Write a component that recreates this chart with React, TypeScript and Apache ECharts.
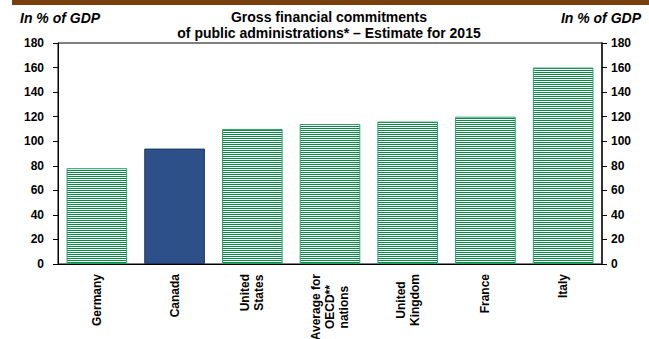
import React, { useEffect, useRef } from "react";
import * as echarts from "echarts";

const categories = ["Germany", "Canada", "United\nStates", "Average for\nOECD**\nnations", "United\nKingdom", "France", "Italy"];
const values = [78, 94, 110, 114, 116, 120, 160];
const highlightIndex = 1;
const titleLines = ["Gross financial commitments", "of public administrations* – Estimate for 2015"];
const unitLabel = "In % of GDP";

export default function App() {
  const ref = useRef<HTMLDivElement>(null);
  useEffect(() => {
    if (!ref.current) return;
    const chart = echarts.init(ref.current, undefined, { renderer: "svg" });
    const c = document.createElement("canvas");
    c.width = 4;
    c.height = 2;
    const ctx = c.getContext("2d")!;
    ctx.fillStyle = "#ffffff";
    ctx.fillRect(0, 0, 4, 2);
    ctx.fillStyle = "#0b8a46";
    ctx.fillRect(0, 0, 4, 1);
    const url = c.toDataURL();
    const green = { image: url, repeat: "repeat" } as any;
    const font = "'Liberation Sans', Arial, sans-serif";
    const labelFont = `bold 12px ${font}`;
    const baseGraphic: any[] = [
      { type: "rect", shape: { x: 12, y: 0, width: 637, height: 5 }, style: { fill: "#7a3e0c" } },
      { type: "text", x: 20, y: 11, style: { text: unitLabel, font: `italic bold 14px ${font}`, fill: "#000" } },
      { type: "text", x: 641, y: 11, style: { text: unitLabel, font: `italic bold 14px ${font}`, fill: "#000", align: "right" } },
      { type: "text", x: 329, y: 9, style: { text: titleLines.join("\n"), font: `bold 14px ${font}`, fill: "#000", align: "center", lineHeight: 16 } },
    ];
    chart.setOption({
      animation: false,
      backgroundColor: "#ffffff",
      grid: { left: 58, right: 47, top: 43, bottom: 75, show: true, borderColor: "#000", borderWidth: 1 },
      graphic: baseGraphic,
      xAxis: {
        type: "category",
        data: categories,
        axisLine: { lineStyle: { color: "#000", width: 1 } },
        axisTick: { show: false },
        axisLabel: { show: false },
      },
      yAxis: [
        {
          type: "value",
          min: 0,
          max: 180,
          interval: 20,
          position: "left",
          splitLine: { show: false },
          axisLine: { show: true, lineStyle: { color: "#000", width: 1 } },
          axisTick: { show: true, length: 5, lineStyle: { color: "#000" } },
          axisLabel: { color: "#000", fontFamily: font, fontWeight: "bold", fontSize: 12, margin: 14 },
        },
        {
          type: "value",
          min: 0,
          max: 180,
          interval: 20,
          position: "right",
          splitLine: { show: false },
          axisLine: { show: true, lineStyle: { color: "#333", width: 2 } },
          axisTick: { show: true, length: 5, lineStyle: { color: "#000" } },
          axisLabel: { color: "#000", fontFamily: font, fontWeight: "bold", fontSize: 12, margin: 9 },
        },
      ],
      series: [
        {
          type: "bar",
          barCategoryGap: "22%",
          data: values.map((v, i) => ({
            value: v,
            itemStyle:
              i === highlightIndex
                ? { color: "#2e5088", borderColor: "#1c3461", borderWidth: 1 }
                : { color: green, borderColor: "#2f9e6e", borderWidth: 1 },
          })),
        },
      ],
    });
    // category labels: rotated, lines centred, block anchored just below the axis
    ctx.font = labelFont;
    const axisY = chart.convertToPixel({ yAxisIndex: 0 }, 0) as number;
    const labels = categories.map((cat, i) => {
      const cx = chart.convertToPixel({ xAxisIndex: 0 }, i) as number;
      const maxW = Math.max(...cat.split("\n").map((l) => ctx.measureText(l).width));
      return {
        type: "text",
        x: cx,
        y: axisY + 10 + maxW / 2,
        rotation: Math.PI / 2,
        style: { text: cat, font: labelFont, fill: "#000", align: "center", verticalAlign: "middle", lineHeight: 14 },
      };
    });
    chart.setOption({ graphic: [...baseGraphic, ...labels] });
    return () => chart.dispose();
  }, []);
  return <div ref={ref} style={{ width: 649, height: 339, position: "absolute", left: 0, top: 0 }} />;
}
